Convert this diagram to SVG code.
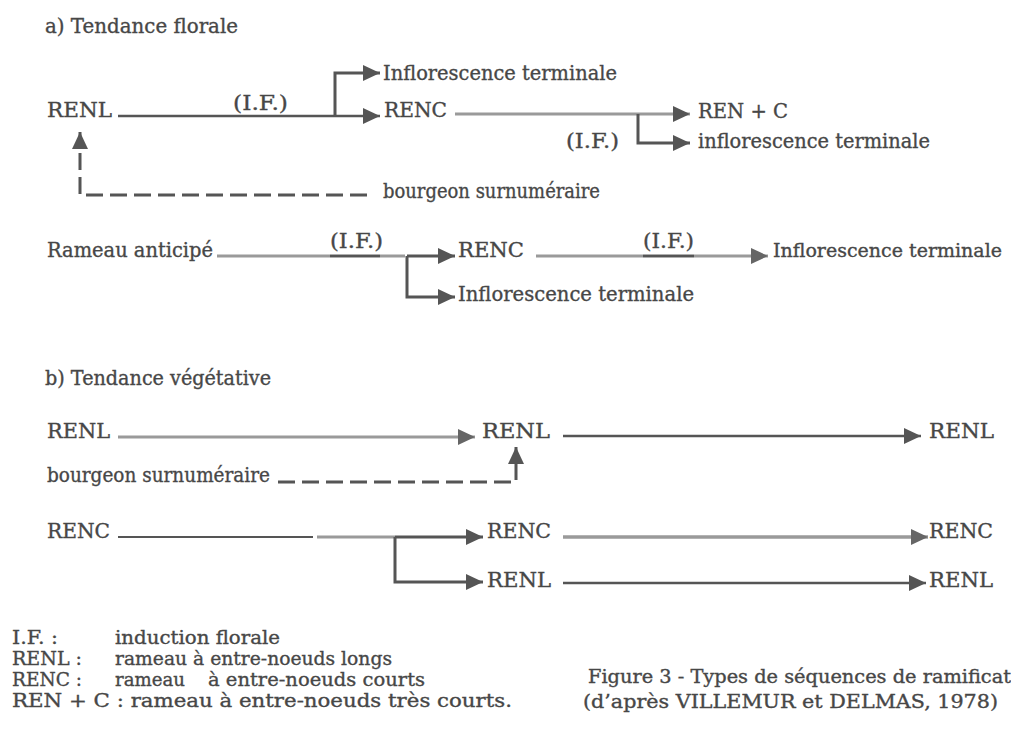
<svg xmlns="http://www.w3.org/2000/svg" width="1011" height="729" viewBox="0 0 1011 729">
<style>
text{font-family:"DejaVu Serif","Liberation Serif",serif;font-size:20px;fill:#474747;stroke:#474747;stroke-width:0.35}
.lg{font-size:19px}
.dk{fill:none;stroke:#555;stroke-width:2.5}
.gr{fill:none;stroke:#9a9a9a;stroke-width:3}
.br{fill:none;stroke:#555;stroke-width:3}
.ds{fill:none;stroke:#555;stroke-width:3;stroke-dasharray:17 7}
</style>
<defs>
<marker id="ad" markerUnits="userSpaceOnUse" markerWidth="17" markerHeight="16" refX="17" refY="8" orient="auto"><path d="M0,0 L17,8 L0,16 z" fill="#555"/></marker>
<marker id="ag" markerUnits="userSpaceOnUse" markerWidth="17" markerHeight="16" refX="17" refY="8" orient="auto"><path d="M0,0 L17,8 L0,16 z" fill="#666"/></marker>
</defs>
<rect width="1011" height="729" fill="#fff"/>
<g id="connectors">
<path class="dk" d="M118,116 H380" marker-end="url(#ad)"/>
<path class="br" d="M335,116 V73 H380" marker-end="url(#ad)"/>
<path class="gr" d="M455,114 H690" marker-end="url(#ad)"/>
<path class="br" d="M638,114 V143 H690" marker-end="url(#ad)"/>
<path class="ds" d="M367,195 H80 V132" marker-end="url(#ad)"/>
<path class="gr" d="M217,256 H405"/>
<path class="dk" d="M330,256 H380"/>
<path class="br" d="M407,256 H455" marker-end="url(#ad)"/>
<path class="br" d="M407,256 V297 H455" marker-end="url(#ad)"/>
<path class="gr" d="M536,256 H768" marker-end="url(#ag)"/>
<path class="dk" d="M643,256 H694"/>
<path class="gr" d="M118,437 H475" marker-end="url(#ag)"/>
<path class="ds" d="M278,482 H516 V447" marker-end="url(#ad)"/>
<path class="dk" d="M563,436 H921" marker-end="url(#ad)"/>
<path class="dk" d="M118,537 H313" style="stroke-width:2"/>
<path class="gr" d="M317,537 H395"/>
<path class="br" d="M395,537 H483" marker-end="url(#ad)"/>
<path class="br" d="M395,537 V582 H483" marker-end="url(#ad)"/>
<path class="gr" d="M563,537 H928" style="stroke-width:3.5" marker-end="url(#ag)"/>
<path class="dk" d="M563,583 H926" marker-end="url(#ad)"/>
</g>
<g id="title-a"><text x="45" y="33" textLength="193" lengthAdjust="spacingAndGlyphs">a) Tendance florale</text></g>
<g id="n-infl1"><text x="383" y="80" textLength="234" lengthAdjust="spacingAndGlyphs">Inflorescence terminale</text></g>
<g id="n-renl1"><text x="47" y="117" textLength="65" lengthAdjust="spacingAndGlyphs">RENL</text></g>
<g id="l-if1"><text x="233" y="110" textLength="55" lengthAdjust="spacingAndGlyphs">(I.F.)</text></g>
<g id="n-renc1"><text x="384" y="117" textLength="63" lengthAdjust="spacingAndGlyphs">RENC</text></g>
<g id="n-renpc"><text x="698" y="118" textLength="90" lengthAdjust="spacingAndGlyphs">REN + C</text></g>
<g id="l-if2"><text x="566" y="148" textLength="53" lengthAdjust="spacingAndGlyphs">(I.F.)</text></g>
<g id="n-infl2"><text x="698" y="148" textLength="232" lengthAdjust="spacingAndGlyphs">inflorescence terminale</text></g>
<g id="n-bourg1"><text x="383" y="198" textLength="217" lengthAdjust="spacingAndGlyphs">bourgeon surnuméraire</text></g>
<g id="n-rameau"><text x="47" y="257" textLength="166" lengthAdjust="spacingAndGlyphs">Rameau anticipé</text></g>
<g id="l-if3"><text x="330" y="248" textLength="53" lengthAdjust="spacingAndGlyphs">(I.F.)</text></g>
<g id="n-renc2"><text x="458" y="257" textLength="66" lengthAdjust="spacingAndGlyphs">RENC</text></g>
<g id="l-if4"><text x="643" y="248" textLength="51" lengthAdjust="spacingAndGlyphs">(I.F.)</text></g>
<g id="n-infl3"><text x="773" y="257" style="font-size:19px" textLength="229" lengthAdjust="spacingAndGlyphs">Inflorescence terminale</text></g>
<g id="n-infl4"><text x="458" y="301" textLength="236" lengthAdjust="spacingAndGlyphs">Inflorescence terminale</text></g>
<g id="title-b"><text x="45" y="385" textLength="226" lengthAdjust="spacingAndGlyphs">b) Tendance végétative</text></g>
<g id="n-renl2"><text x="47" y="438" textLength="63" lengthAdjust="spacingAndGlyphs">RENL</text></g>
<g id="n-renl3"><text x="482" y="438" textLength="68" lengthAdjust="spacingAndGlyphs">RENL</text></g>
<g id="n-renl4"><text x="929" y="438" textLength="65" lengthAdjust="spacingAndGlyphs">RENL</text></g>
<g id="n-bourg2"><text x="47" y="482" textLength="223" lengthAdjust="spacingAndGlyphs">bourgeon surnuméraire</text></g>
<g id="n-renc3"><text x="47" y="538" textLength="63" lengthAdjust="spacingAndGlyphs">RENC</text></g>
<g id="n-renc4"><text x="487" y="538" textLength="64" lengthAdjust="spacingAndGlyphs">RENC</text></g>
<g id="n-renc5"><text x="929" y="538" textLength="64" lengthAdjust="spacingAndGlyphs">RENC</text></g>
<g id="n-renl5"><text x="487" y="587" textLength="64" lengthAdjust="spacingAndGlyphs">RENL</text></g>
<g id="n-renl6"><text x="929" y="587" textLength="64" lengthAdjust="spacingAndGlyphs">RENL</text></g>
<g id="legend">
<text class="lg" x="12" y="644" textLength="46" lengthAdjust="spacingAndGlyphs">I.F. :</text>
<text class="lg" x="115" y="644" textLength="165" lengthAdjust="spacingAndGlyphs">induction florale</text>
<text class="lg" x="12" y="665" textLength="70" lengthAdjust="spacingAndGlyphs">RENL :</text>
<text class="lg" x="115" y="665" textLength="277" lengthAdjust="spacingAndGlyphs">rameau à entre-noeuds longs</text>
<text class="lg" x="12" y="686" textLength="70" lengthAdjust="spacingAndGlyphs">RENC :</text>
<text class="lg" x="115" y="686" textLength="70" lengthAdjust="spacingAndGlyphs">rameau</text>
<text class="lg" x="208" y="686" textLength="217" lengthAdjust="spacingAndGlyphs">à entre-noeuds courts</text>
<text class="lg" x="12" y="707" textLength="500" lengthAdjust="spacingAndGlyphs">REN + C : rameau à entre-noeuds très courts.</text>
</g>
<g id="caption">
<text class="lg" x="588" y="683" style="font-size:18px" textLength="423" lengthAdjust="spacingAndGlyphs">Figure 3 - Types de séquences de ramificat</text>
<text class="lg" x="583" y="708" textLength="415" lengthAdjust="spacingAndGlyphs">(d’après VILLEMUR et DELMAS, 1978)</text>
</g>
</svg>
